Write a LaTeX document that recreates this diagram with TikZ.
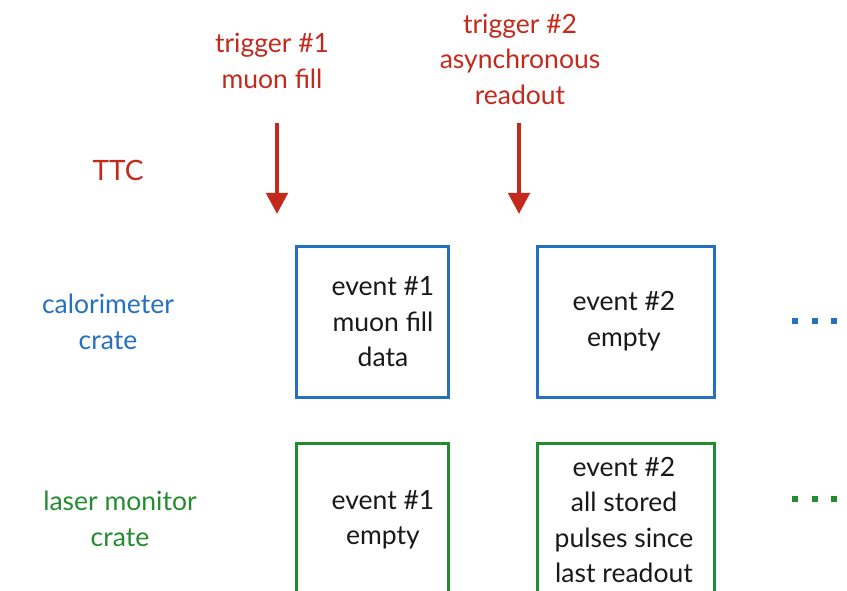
\documentclass[tikz,border=0pt]{standalone}
\usepackage{fontspec}
\setmainfont{Lato}
\usetikzlibrary{arrows.meta}
\definecolor{ttcred}{RGB}{196,42,28}
\definecolor{calblue}{RGB}{38,112,192}
\definecolor{lasgreen}{RGB}{36,140,48}
\definecolor{txt}{RGB}{25,25,25}
\begin{document}
\begin{tikzpicture}[x=1pt,y=-1pt,
  lab/.style={font=\fontsize{26.5}{35.5}\selectfont, align=center, inner sep=0pt},
  redlab/.style={lab, text=ttcred},
  bluelab/.style={lab, text=calblue},
  greenlab/.style={lab, text=lasgreen},
  evbox/.style={draw, line width=3.3pt, minimum width=152pt, minimum height=151pt, anchor=north west, inner sep=0pt},
  boxtxt/.style={lab, text=txt},
  trig/.style={draw=ttcred, line width=4.5pt, -{Triangle[length=21pt,width=21pt]}},
  dot/.style={minimum size=6pt, inner sep=0pt}
]
\useasboundingbox (0,0) rectangle (847,591);
\clip (0,0) rectangle (847,591);
\fill[white] (0,0) rectangle (847,591);

% labels
\node[redlab] (t1) at (272,61) {trigger \#1\\muon fill};
\node[redlab] (t2) at (520,59) {trigger \#2\\asynchronous\\readout};
\node[redlab, font=\fontsize{28}{36}\selectfont] (ttc) at (118,170) {TTC};
\node[bluelab] (cal) at (108,322) {calorimeter\\crate};
\node[greenlab] (las) at (120,519) {laser monitor\\crate};

% arrows
\coordinate (a1s) at (277,123);
\coordinate (a1e) at (277,214);
\coordinate (a2s) at (519,123);
\coordinate (a2e) at (519,214);
\draw[trig] (a1s) -- (a1e);
\draw[trig] (a2s) -- (a2e);

% boxes
\node[evbox, draw=calblue] (c1) at (295,245) {};
\node[evbox, draw=calblue, minimum width=177pt] (c2) at (536,245) {};
\node[evbox, draw=lasgreen, minimum height=170pt] (l1) at (295,442) {};
\node[evbox, draw=lasgreen, minimum width=177pt, minimum height=170pt] (l2) at (536,442) {};

\node[boxtxt] (c1t) at (383,322) {event \#1\\muon fill\\data};
\node[boxtxt] (c2t) at (624,321) {event \#2\\empty};
\node[boxtxt] (l1t) at (383,520) {event \#1\\empty};
\node[boxtxt] (l2t) at (624,520) {event \#2\\all stored\\pulses since\\last readout};

% dots
\foreach \c/\y/\n in {calblue/321/d, lasgreen/499/e}{
  \node[dot, fill=\c] (\n1) at (795,\y) {};
  \node[dot, fill=\c] (\n2) at (815,\y) {};
  \node[dot, fill=\c] (\n3) at (834,\y) {};
}
\end{tikzpicture}
\end{document}
